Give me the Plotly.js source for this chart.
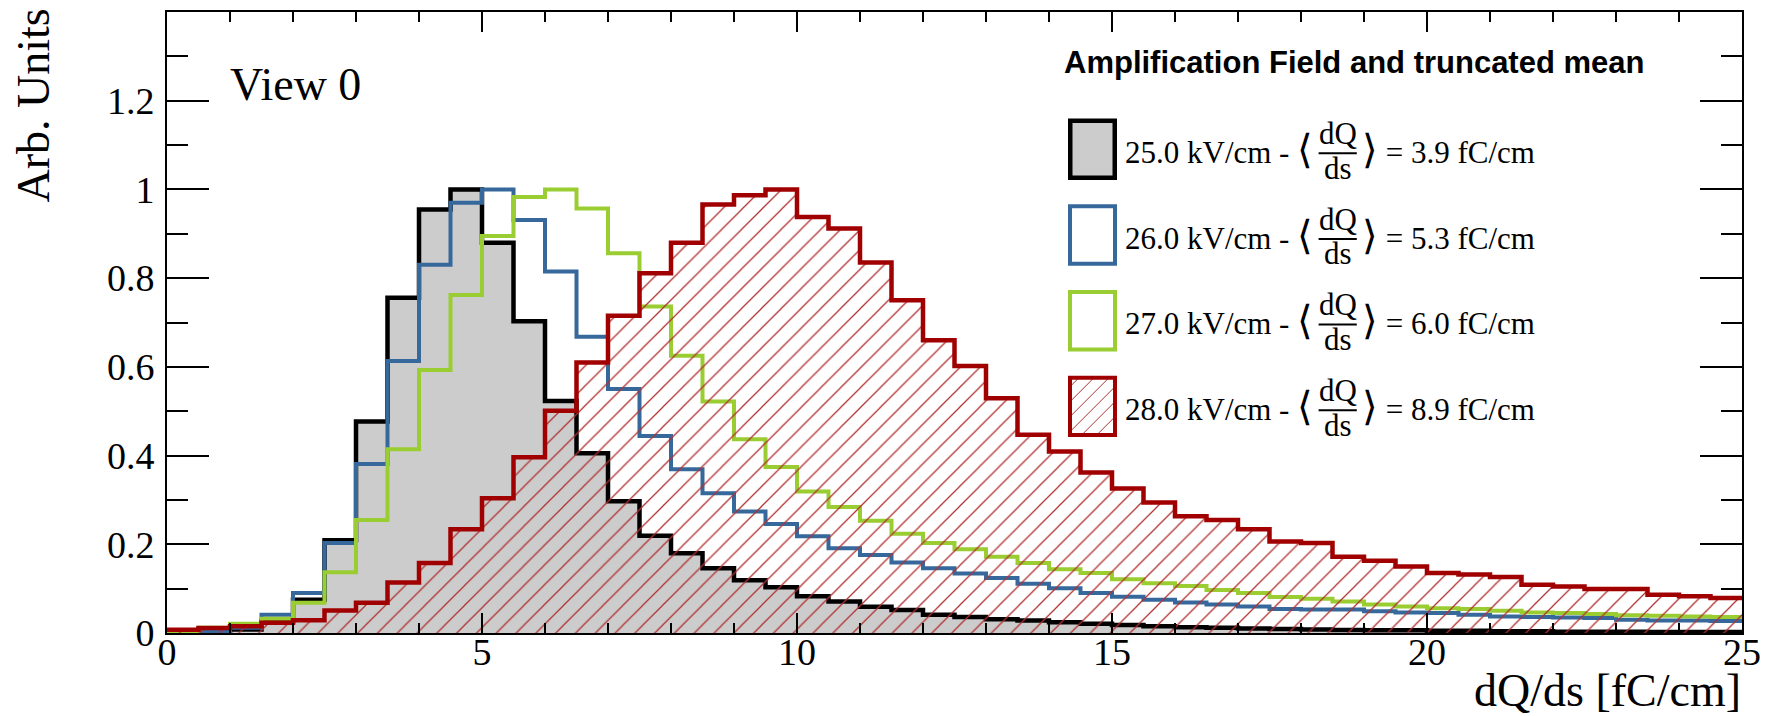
<!DOCTYPE html>
<html><head><meta charset="utf-8">
<script src="https://cdn.plot.ly/plotly-3.0.1.min.js"></script>
<style>html,body{margin:0;padding:0;background:#fff;} #chart{width:1766px;height:716px;}</style>
</head><body><div id="chart"></div>
<script>
// ---------------- data ----------------
const xMin = 0, xMax = 25, nBins = 50;
const fields = ['25.0', '26.0', '27.0', '28.0'];
const meanDQds = ['3.9', '5.3', '6.0', '8.9'];

const h25 = [0.001,0.003,0.008,0.026,0.075,0.209,0.477,0.756,0.955,1.000,
             0.880,0.703,0.523,0.405,0.297,0.219,0.180,0.146,0.119,0.103,
             0.083,0.071,0.059,0.052,0.041,0.036,0.031,0.028,0.024,0.021,
             0.018,0.015,0.013,0.012,0.010,0.009,0.008,0.007,0.006,0.006,
             0.005,0.005,0.004,0.004,0.003,0.003,0.003,0.002,0.002,0.002];
const h26 = [0.001,0.004,0.012,0.041,0.090,0.203,0.381,0.613,0.830,0.970,
             1.000,0.931,0.815,0.668,0.550,0.444,0.369,0.315,0.274,0.246,
             0.218,0.191,0.176,0.159,0.146,0.134,0.124,0.111,0.101,0.090,
             0.082,0.075,0.069,0.064,0.060,0.054,0.053,0.053,0.049,0.046,
             0.045,0.041,0.037,0.036,0.035,0.034,0.030,0.028,0.028,0.027];
const h27 = [0.001,0.012,0.021,0.032,0.068,0.137,0.255,0.414,0.593,0.762,
             0.895,0.983,1.000,0.957,0.856,0.736,0.625,0.522,0.437,0.374,
             0.319,0.284,0.253,0.224,0.203,0.189,0.172,0.158,0.144,0.135,
             0.121,0.112,0.106,0.097,0.090,0.081,0.077,0.071,0.064,0.060,
             0.056,0.054,0.050,0.046,0.045,0.043,0.040,0.039,0.037,0.036];
const h28 = [0.0075,0.011,0.015,0.023,0.029,0.051,0.068,0.114,0.158,0.234,
             0.304,0.396,0.501,0.610,0.715,0.811,0.880,0.966,0.987,1.000,
             0.938,0.912,0.835,0.750,0.660,0.602,0.529,0.447,0.409,0.362,
             0.326,0.294,0.263,0.255,0.234,0.206,0.203,0.172,0.163,0.150,
             0.135,0.132,0.126,0.109,0.105,0.099,0.099,0.086,0.083,0.079];

const seriesValues = [h25, h26, h27, h28];
const lineColors = ['#000000', '#36689c', '#9acd32', '#a00000'];
const hatchColor = '#b03030';

// ---------------- geometry ----------------
const FW = 1766, FH = 716;
const ML = 167, MR = 24, MT = 12, MB = 83;
const PW = FW - ML - MR, PH = FH - MT - MB;
const px2x = p => (p - ML) / PW;
const px2y = p => (MT + PH - p) / PH;

const SERIF = 'Liberation Serif';
const SANS = 'Liberation Sans';

const binW = (xMax - xMin) / nBins;
const edges = [];
for (let i = 0; i <= nBins; i++) edges.push(xMin + i * binW);

function stepTrace(vals, idx) {
  const ys = vals.slice(); ys.push(vals[vals.length - 1]);
  const t = {
    type: 'scatter', mode: 'lines', x: edges, y: ys,
    line: {shape: 'hv', color: lineColors[idx], width: (idx === 0 || idx === 3) ? 4.5 : 4},
    hoverinfo: 'skip', showlegend: false
  };
  if (idx === 0) { t.fill = 'tozeroy'; t.fillcolor = '#cccccc'; }
  if (idx === 3) {
    t.fill = 'tozeroy'; t.fillcolor = 'rgba(0,0,0,0)';
    t.fillpattern = {shape: '/', fgcolor: hatchColor, bgcolor: 'rgba(0,0,0,0)', size: 14, solidity: 0.09};
  }
  return t;
}
const traces = seriesValues.map((v, i) => stepTrace(v, i));

// ---------------- annotations & legend ----------------
const annotations = [];
const shapes = [];
function textAnn(text, xPx, basePx, size, family, xanchor, extra) {
  const k = family === SANS ? 0.3465 : 0.3375;
  annotations.push(Object.assign({
    text: text, xref: 'paper', yref: 'paper',
    x: px2x(xPx), y: px2y(basePx - k * size),
    xanchor: xanchor || 'left', yanchor: 'middle',
    showarrow: false, borderpad: 0, borderwidth: 0,
    font: {family: family, size: size, color: '#000'}
  }, extra || {}));
}

textAnn('dQ/ds [fC/cm]', 1741, 706, 46, SERIF, 'right');
annotations.push({
  text: 'Arb. Units', xref: 'paper', yref: 'paper',
  x: px2x(33.5), y: px2y(9), xanchor: 'center', yanchor: 'top',
  textangle: -90, showarrow: false, borderpad: 0, borderwidth: 0,
  font: {family: SERIF, size: 46, color: '#000'}
});
textAnn('View 0', 230, 100, 46, SERIF, 'left');
textAnn('<b>Amplification Field and truncated mean</b>', 1064, 73.6, 31, SANS, 'left');

const pitch = 85.7;
const BR = '<span style="font-size:40px">';
for (let i = 0; i < fields.length; i++) {
  const dy = i * pitch;
  const bw = i === 0 ? 4.5 : 4;
  const bx0 = 1068 + bw / 2, bx1 = 1117 - bw / 2, by0 = 118.6 + bw / 2 + dy, by1 = 180 - bw / 2 + dy;
  if (i === 3) {
    const sp = 15;
    for (let c = bx0 + by0 + sp * 0.6; c < bx1 + by1; c += sp) {
      const pts = [];
      const cand = [[bx0, c - bx0], [bx1, c - bx1], [c - by0, by0], [c - by1, by1]];
      cand.forEach(p => { if (p[0] >= bx0 - 1e-6 && p[0] <= bx1 + 1e-6 && p[1] >= by0 - 1e-6 && p[1] <= by1 + 1e-6) pts.push(p); });
      if (pts.length >= 2) {
        pts.sort((a, b) => a[0] - b[0]);
        shapes.push({type: 'line', xref: 'paper', yref: 'paper',
          x0: px2x(pts[0][0]), y0: px2y(pts[0][1]), x1: px2x(pts[pts.length - 1][0]), y1: px2y(pts[pts.length - 1][1]),
          line: {color: hatchColor, width: 1}});
      }
    }
  }
  shapes.push({type: 'rect', xref: 'paper', yref: 'paper',
    x0: px2x(bx0), x1: px2x(bx1), y0: px2y(by1), y1: px2y(by0),
    fillcolor: i === 0 ? '#cccccc' : 'rgba(0,0,0,0)',
    line: {color: lineColors[i], width: bw}});
  textAnn(fields[i] + ' kV/cm - ' + BR + '\u27E8</span>', 1125, 160 + dy, 31, SERIF, 'left');
  textAnn('dQ', 1337.7, 144 + dy, 31, SERIF, 'center');
  textAnn('ds', 1337.7, 178.5 + dy, 31, SERIF, 'center');
  shapes.push({type: 'line', xref: 'paper', yref: 'paper',
    x0: px2x(1318.6), x1: px2x(1356.8), y0: px2y(153.2 + dy), y1: px2y(153.2 + dy),
    line: {color: '#000', width: 2}});
  textAnn(BR + '\u27E9</span> = ' + meanDQds[i] + ' fC/cm', 1362, 160 + dy, 31, SERIF, 'left');
}

// ---------------- layout ----------------
function axisBase() {
  return {
    ticks: 'inside', tickwidth: 2, tickcolor: '#000',
    showline: true, linewidth: 2, linecolor: '#000', mirror: 'allticks',
    showgrid: false, zeroline: false, fixedrange: true,
    tickfont: {family: SERIF, size: 38, color: '#000'}
  };
}
const layout = {
  width: FW, height: FH,
  font: {family: SERIF, size: 38, color: '#000'},
  margin: {l: ML, r: MR, t: MT, b: MB, pad: 0},
  paper_bgcolor: '#fff', plot_bgcolor: '#fff',
  showlegend: false,
  xaxis: Object.assign(axisBase(), {
    range: [xMin, xMax], tick0: 0, dtick: 5, ticklen: 20, ticklabelstandoff: -16,
    minor: {dtick: 1, ticks: 'inside', ticklen: 10, tickwidth: 2, tickcolor: '#000', showgrid: false}
  }),
  yaxis: Object.assign(axisBase(), {
    range: [0, 1.4], tick0: 0, dtick: 0.2, ticklen: 42, ticklabelstandoff: 3,
    minor: {dtick: 0.1, ticks: 'inside', ticklen: 21, tickwidth: 2, tickcolor: '#000', showgrid: false}
  }),
  annotations: annotations,
  shapes: shapes
};

Plotly.newPlot('chart', traces, layout, {staticPlot: true, displayModeBar: false});
</script>
</body></html>
